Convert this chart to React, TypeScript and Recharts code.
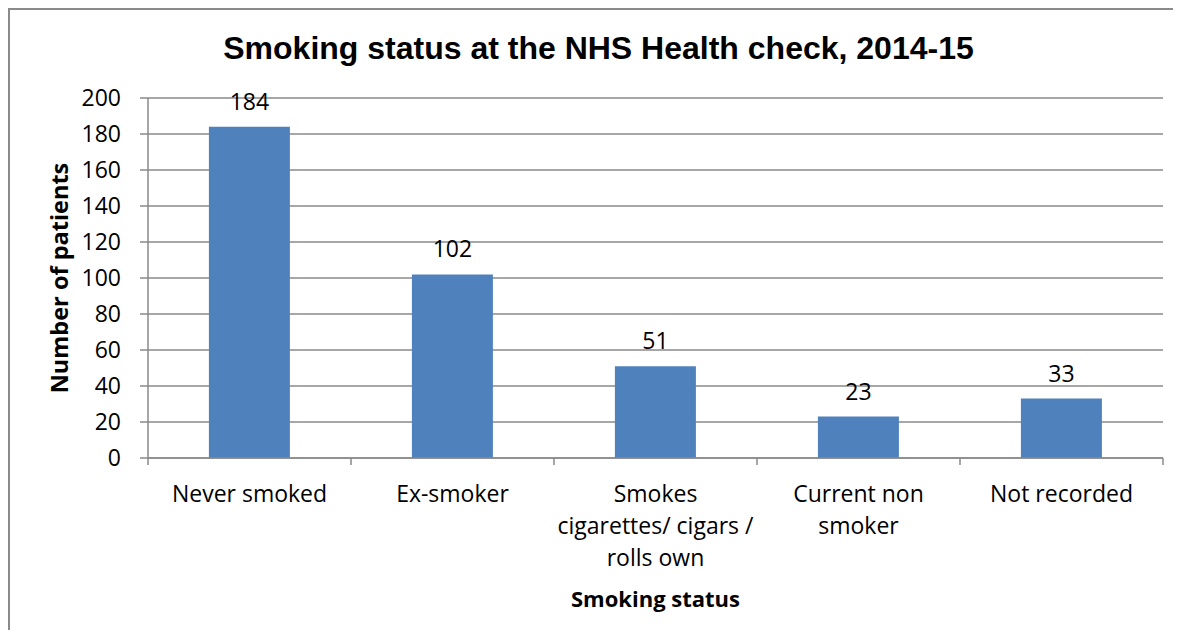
import { BarChart, Bar, XAxis, YAxis, CartesianGrid, LabelList } from 'recharts';

const categories = [
  'Never smoked',
  'Ex-smoker',
  'Smokes\ncigarettes/ cigars /\nrolls own',
  'Current non\nsmoker',
  'Not recorded',
];
const patients = [184, 102, 51, 23, 33];
const yTicks = [0, 20, 40, 60, 80, 100, 120, 140, 160, 180, 200];

const data = categories.map((name, i) => ({ name, value: patients[i] }));

const BODY_FONT = '"Open Sans", Lato, sans-serif';
const GRID = '#8a8a8a';

// category label plus the small marks Excel puts between categories
function CatTick({ x, y, payload, index }: any) {
  const lines = String(payload.value).split('\n');
  const half = payload.offset ?? 0;
  const axisY = y - 2;
  return (
    <g>
      <line x1={x - half} x2={x - half} y1={axisY} y2={axisY + 7} stroke={GRID} strokeWidth={1.5} />
      {index === categories.length - 1 && (
        <line x1={x + half} x2={x + half} y1={axisY} y2={axisY + 7} stroke={GRID} strokeWidth={1.5} />
      )}
      <text x={x} y={axisY + 44} textAnchor="middle" fontFamily={BODY_FONT} fontSize={23} fill="#000">
        {lines.map((l, i) => (
          <tspan key={i} x={x} dy={i === 0 ? 0 : 32}>
            {l}
          </tspan>
        ))}
      </text>
    </g>
  );
}

export default function App() {
  return (
    <div
      style={{
        position: 'relative',
        width: 1163,
        height: 620,
        borderTop: `2px solid ${GRID}`,
        borderLeft: `2px solid ${GRID}`,
      }}
    >
      <div
        style={{
          position: 'absolute',
          left: 0,
          top: 22,
          width: 1177,
          textAlign: 'center',
          fontFamily: '"Liberation Sans", Arial, sans-serif',
          fontWeight: 'bold',
          fontSize: 32,
          lineHeight: '32px',
          whiteSpace: 'nowrap',
        }}
      >
        Smoking status at the NHS Health check, 2014-15
      </div>
      <BarChart
        width={1158}
        height={618}
        data={data}
        margin={{ top: 88, right: 5, bottom: 0, left: 0 }}
        barCategoryGap="30%"
      >
        <CartesianGrid vertical={false} stroke={GRID} strokeWidth={1.5} />
        <XAxis
          dataKey="name"
          height={170}
          interval={0}
          tickLine={false}
          tickSize={0}
          tickMargin={2}
          axisLine={{ stroke: GRID, strokeWidth: 1.5 }}
          tick={<CatTick />}
          label={{
            value: 'Smoking status',
            position: 'insideTop',
            offset: 133,
            style: { fontFamily: BODY_FONT, fontWeight: 'bold', fontSize: 22, fill: '#000' },
          }}
        />
        <YAxis
          width={138}
          domain={[0, 200]}
          ticks={yTicks}
          interval={0}
          tickSize={8}
          tickMargin={19}
          axisLine={{ stroke: GRID, strokeWidth: 1.5 }}
          tickLine={{ stroke: GRID, strokeWidth: 1.5 }}
          tick={{ fontFamily: BODY_FONT, fontSize: 23, fill: '#000' }}
          label={{
            value: 'Number of patients',
            angle: -90,
            position: 'center',
            dx: -19,
            style: { fontFamily: BODY_FONT, fontWeight: 'bold', fontSize: 23.5, fill: '#000', textAnchor: 'middle' },
          }}
        />
        <Bar dataKey="value" fill="#4F81BD" isAnimationActive={false}>
          <LabelList
            dataKey="value"
            position="top"
            offset={17}
            fontFamily={BODY_FONT}
            fontSize={23}
            fill="#000"
          />
        </Bar>
      </BarChart>
    </div>
  );
}
